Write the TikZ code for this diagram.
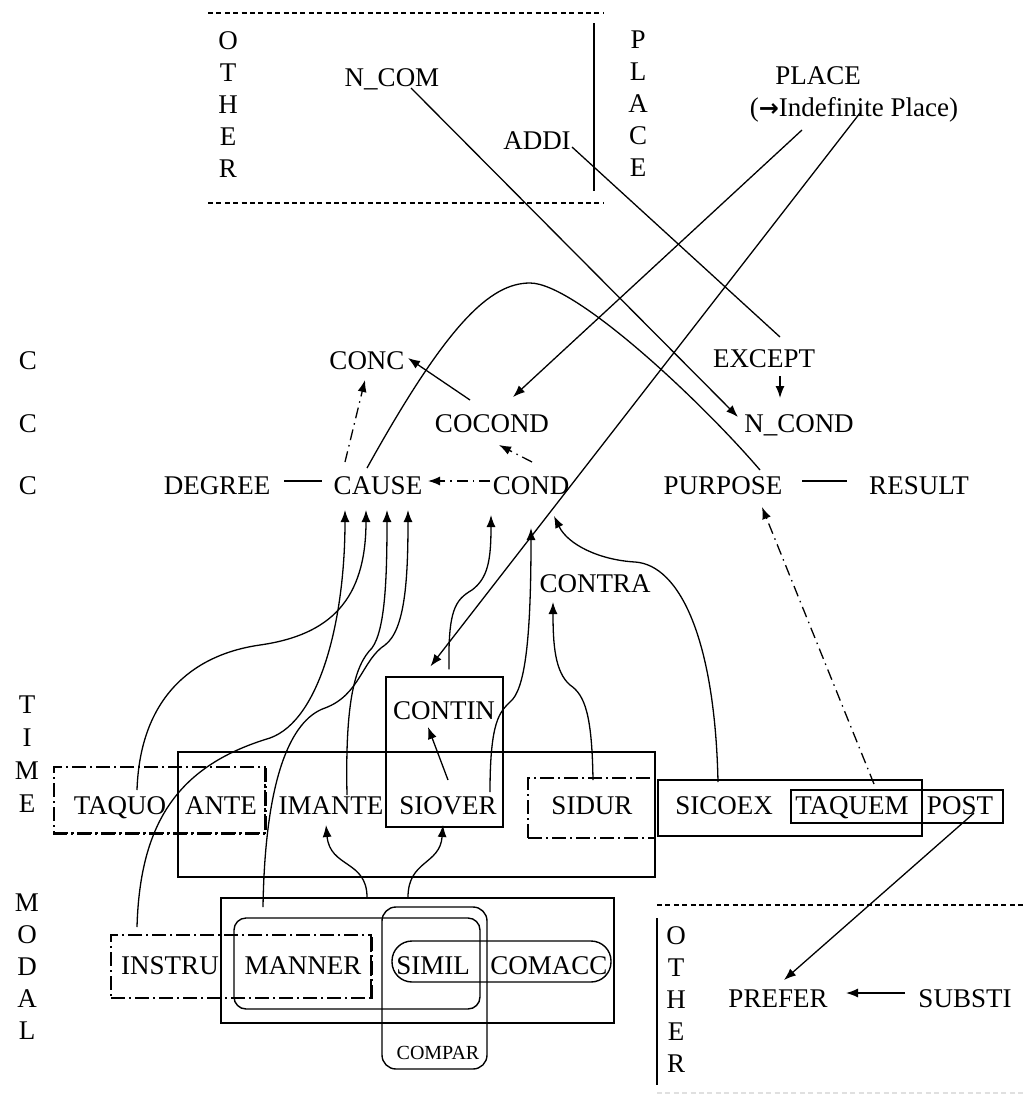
\documentclass[tikz,border=0pt]{standalone}
\usepackage{fontspec}
\setmainfont{Liberation Serif}
\newfontfamily\arrowfont{DejaVu Sans}
\usetikzlibrary{arrows.meta, calc}

\begin{document}
\begin{tikzpicture}[
  x=1pt, y=-1pt,
  lbl/.style={font=\fontsize{27}{30}\selectfont, inner sep=0pt, text height=18pt, text depth=0pt},
  smalllbl/.style={lbl, font=\fontsize{20}{22}\selectfont, text height=13pt},
  vlbl/.style={font=\fontsize{27}{32}\selectfont, inner sep=0pt, align=center, anchor=north},
  grp/.style={draw, line width=1.4pt, inner sep=0pt},
  ddgrp/.style={grp, dash pattern=on 14pt off 4pt on 2pt off 4pt},
  rgrp/.style={grp, rounded corners=12pt},
  arr/.style={-{Latex[length=12pt, width=9pt]}, line width=1.3pt},
  darr/.style={arr, dash pattern=on 11pt off 5pt on 1.5pt off 5pt},
  link/.style={line width=1.3pt},
  dashsep/.style={line width=1.1pt, dash pattern=on 5pt off 3.4pt},
]

%% Page
\fill[white] (0,0) rectangle (1023,1095);
\useasboundingbox (0,0) rectangle (1023,1095);

%% OTHER / PLACE panel
\draw[dashsep] (208,13) -- (603,13);
\draw[dashsep] (208,203) -- (603,203);
\draw[link] (594,23) -- (594,191);
\node[vlbl] (othtop) at (228,31) {O\\T\\H\\E\\R};
\node[vlbl] (plctop) at (638,31) {P\\L\\A\\C\\E};
\node[lbl] (ncom)  at (392,77)  {N\_COM};
\node[lbl] (addi)  at (537,140) {ADDI};
\node[lbl] (place) at (818,75)  {PLACE};
\node[lbl] (indef) at (854,107) {({\arrowfont\bfseries\fontsize{24}{24}\selectfont →}Indefinite Place)};

%% C rows
\node[lbl] (c1) at (28,360) {C};
\node[lbl] (c2) at (28,423) {C};
\node[lbl] (c3) at (28,485) {C};
\node[lbl] (conc)    at (367,360) {CONC};
\node[lbl] (except)  at (764,358) {EXCEPT};
\node[lbl] (cocond)  at (492,423) {COCOND};
\node[lbl] (ncond)   at (799,423) {N\_COND};
\node[lbl] (degree)  at (217,485) {DEGREE};
\node[lbl] (cause)   at (378,485) {CAUSE};
\node[lbl] (cond)    at (531,485) {COND};
\node[lbl] (purpose) at (723,485) {PURPOSE};
\node[lbl] (result)  at (919,485) {RESULT};
\node[lbl] (contra)  at (595,583) {CONTRA};

%% TIME row
\node[vlbl, font=\fontsize{27}{33}\selectfont] (timelbl) at (27,696) {T\\I\\M\\E};
\node[ddgrp, minimum width=211pt, minimum height=66pt]  (taquobox)  at (159.5,800) {};
\node[grp,   minimum width=477pt, minimum height=125pt] (timebox)   at (416.5,814.5) {};
\node[grp,   minimum width=117pt, minimum height=150pt] (continbox) at (444.5,752) {};
\node[ddgrp, minimum width=127pt, minimum height=60pt]  (sidurbox)  at (591.5,808) {};
\node[grp,   minimum width=264pt, minimum height=56pt]  (sicoexbox) at (790,808) {};
\node[grp,   minimum width=212pt, minimum height=33pt]  (taquembox) at (897,806.5) {};
\draw[line width=2.6pt, dash pattern=on 14pt off 4pt on 2pt off 4pt]
  (taquobox.south west) -- (taquobox.south east) -- (taquobox.north east);
\node[lbl] (contin) at (444,710) {CONTIN};
\node[lbl] (taquo)  at (120,805) {TAQUO};
\node[lbl] (ante)   at (221,805) {ANTE};
\node[lbl] (imante) at (331,805) {IMANTE};
\node[lbl] (siover) at (448,805) {SIOVER};
\node[lbl] (sidur)  at (592,805) {SIDUR};
\node[lbl] (sicoex) at (724,805) {SICOEX};
\node[lbl] (taquem) at (852,805) {TAQUEM};
\node[lbl] (post)   at (960,805) {POST};

%% MODAL row
\node[vlbl] (modallbl) at (27,894) {M\\O\\D\\A\\L};
\node[grp,   minimum width=393pt, minimum height=125pt] (modalbox)  at (417.5,960.5) {};
\node[ddgrp, minimum width=260pt, minimum height=63pt]  (instrubox) at (241,966.5) {};
\node[rgrp,  minimum width=246pt, minimum height=91pt]  (mannerbox) at (357,963.5) {};
\node[rgrp,  rounded corners=14pt, minimum width=105pt, minimum height=162pt] (comparbox) at (434.5,988) {};
\node[rgrp,  rounded corners=20pt, minimum width=219pt, minimum height=41pt]  (similbox)  at (501.5,961.5) {};
\draw[line width=2.6pt, dash pattern=on 14pt off 4pt on 2pt off 4pt]
  (instrubox.south east) -- (instrubox.north east);
\node[lbl] (instru) at (170,965) {INSTRU};
\node[lbl] (manner) at (303,965) {MANNER};
\node[lbl] (simil)  at (433,965) {SIMIL};
\node[lbl] (comacc) at (549,965) {COMACC};
\node[smalllbl] (compar) at (438,1053) {COMPAR};

%% OTHER panel (bottom right)
\draw[dashsep] (657,905) -- (1023,905);
\draw[dashsep, black!12] (657,1093) -- (1023,1093);
\draw[link] (657,918) -- (657,1085);
\node[vlbl] (othbot) at (676,926) {O\\T\\H\\E\\R};
\node[lbl] (prefer) at (778,998) {PREFER};
\node[lbl] (substi) at (965,998) {SUBSTI};

%% Straight links
\draw[arr]  ($(ncom)+(19,11)$)    -- ($(ncond)+(-61,-6)$);
\draw[link] ($(addi)+(35,7)$)     -- ($(except)+(16,-21)$);
\draw[arr]  ($(indef)+(-52,23)$)  -- ($(cocond)+(21,-26)$);
\draw[arr]  ($(indef)+(6,6)$)     -- ($(continbox.north)+(-14,-10)$);
\draw[arr]  ($(except)+(16,18)$)  -- ($(ncond)+(-19,-25)$);
\draw[arr]  ($(cocond)+(-22,-23)$) -- ($(conc)+(41,-2)$);
\draw[darr] ($(cause)+(-33,-23)$) -- ($(conc)+(-2,20)$);
\draw[darr] ($(cond)+(1,-23)$)    -- ($(cocond)+(7,22)$);
\draw[darr] ($(cond)+(-41,-4)$)   -- ($(cause)+(50,-4)$);
\draw[link] ($(degree)+(67,-4)$)  -- ($(cause)+(-56,-4)$);
\draw[link] ($(purpose)+(79,-4)$) -- ($(result)+(-72,-4)$);
\draw[darr] ($(taquem)+(22,-21)$) -- ($(purpose)+(39,22)$);
\draw[arr]  ($(siover)+(0,-25)$)  -- ($(contin)+(-16,17)$);
\draw[arr]  ($(post)+(14,8)$)     -- ($(prefer)+(6,-18)$);
\draw[arr]  ($(substi)+(-60,-5)$) -- ($(prefer)+(68,-5)$);

%% Curved links
\draw[link] ($(cause)+(-11,-17)$) .. controls (447,324) and (490,283) .. (530,283)
  .. controls (575,283) and (700,400) .. ($(purpose)+(37,-15)$);
\draw[arr] ($(instru)+(-33,-38)$) .. controls (140,820) and (180,765) .. (270,738)
  .. controls (320,720) and (345,620) .. ($(cause)+(-33,25)$);
\draw[arr] ($(taquo)+(17,-15)$) .. controls (140,700) and (190,655) .. (260,645)
  .. controls (330,635) and (366,600) .. ($(cause)+(-12,25)$);
\draw[arr] ($(imante)+(16,-10)$) .. controls (345,700) and (355,665) .. (372,648)
  .. controls (385,630) and (387,580) .. ($(cause)+(9,25)$);
\draw[arr] ($(manner)+(-40,-58)$) .. controls (265,780) and (290,720) .. (325,708)
  .. controls (360,695) and (362,660) .. (385,645)
  .. controls (405,630) and (408,580) .. ($(cause)+(30,25)$);
\draw[arr] ($(continbox.north)+(4.5,-7)$) .. controls (448,610) and (455,600) .. (472,590)
  .. controls (488,578) and (491,560) .. ($(cond)+(-40,30)$);
\draw[arr] ($(siover)+(42,-13)$) .. controls (490,720) and (500,712) .. (510,702)
  .. controls (525,690) and (531,640) .. ($(cond)+(0,43)$);
\draw[arr] ($(sicoex)+(-6,-23)$) .. controls (715,640) and (680,565) .. (635,562)
  .. controls (600,560) and (568,545) .. ($(cond)+(23,31)$);
\draw[arr] ($(sidur)+(1,-25)$) .. controls (592,715) and (585,695) .. (570,685)
  .. controls (555,672) and (553,645) .. ($(contra)+(-42,19)$);
\draw[arr] ($(modalbox.north)+(-50.5,0)$) .. controls (367,860) and (330,868) .. ($(imante)+(-5,20)$);
\draw[arr] ($(modalbox.north)+(-9.5,0)$) .. controls (408,860) and (440,865) .. ($(siover)+(-5,20)$);

\end{tikzpicture}
\end{document}
